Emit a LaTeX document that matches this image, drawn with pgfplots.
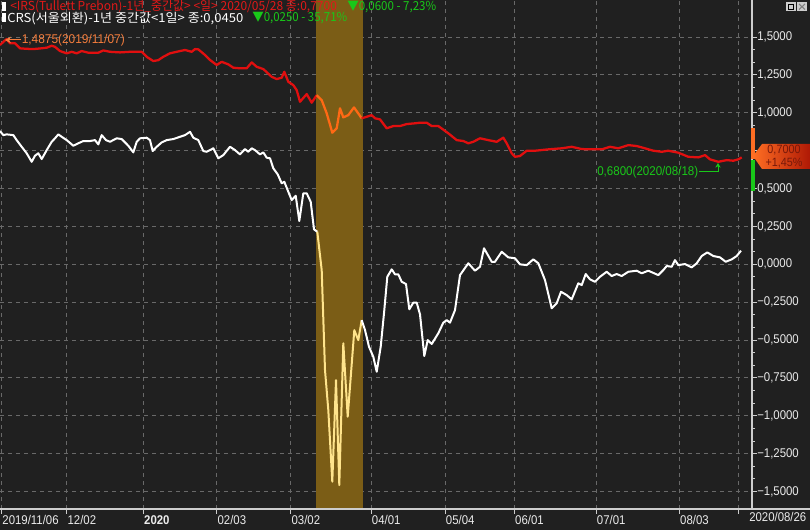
\documentclass[border=0pt]{standalone}
\usepackage{pgfplots}
\pgfplotsset{compat=1.18}
\usepackage{graphicx}
\usepackage{fontspec}
\usetikzlibrary{arrows.meta}
\setmainfont{Liberation Sans}
\newfontfamily\cf[FakeStretch=0.9]{Liberation Sans}
\newfontfamily\kr{Noto Sans CJK KR}
\definecolor{bg}{RGB}{32,32,32}
\definecolor{gridc}{RGB}{105,105,105}
\definecolor{band}{RGB}{123,93,22}
\definecolor{irs}{RGB}{225,15,15}
\definecolor{irsband}{RGB}{255,105,20}
\definecolor{crs}{RGB}{255,255,255}
\definecolor{crsband}{RGB}{255,228,140}
\definecolor{axisc}{RGB}{205,205,205}
\definecolor{lbl}{RGB}{235,235,235}
\definecolor{grn}{RGB}{25,200,25}
\definecolor{legred}{RGB}{225,25,25}
\definecolor{annor}{RGB}{245,125,60}
\definecolor{tagL}{RGB}{255,110,35}
\definecolor{tagR}{RGB}{175,25,5}
\definecolor{tagtxt}{RGB}{120,25,10}
\begin{document}
\begin{tikzpicture}[x=0.75pt,y=0.75pt]
\useasboundingbox (0,0) rectangle (810,-530);
\fill[bg] (0,0) rectangle (810,-530);
\begin{axis}[
  at={(0,0)}, anchor=north west, scale only axis,
  width=564pt, height=381.75pt,
  xmin=0, xmax=752, ymin=-1.615, ymax=1.745,
  axis line style={draw=none},
  xtick pos=left, ytick pos=right, yticklabel pos=right,
  tick align=outside,
  major tick length=3.75pt, minor tick length=2.25pt,
  every tick/.style={axisc, line width=0.75pt},
  xtick={1.5,66.7,143.3,216.7,290.7,371,445,514.3,596,679.3},
  xticklabels={2019/11/06,12/02,\textbf{2020},02/03,03/02,04/01,05/04,06/01,07/01,08/03},
  extra x ticks={738.3}, extra x tick labels={},
  ytick={-1.5,-1.25,-1,-0.75,-0.5,-0.25,0,0.25,0.5,0.75,1,1.25,1.5},
  yticklabels={{−1,5000},{−1,2500},{−1,0000},{−0,7500},{−0,5000},{−0,2500},{0,0000},{0,2500},{0,5000},{},{1,0000},{1,2500},{1,5000}},
  minor y tick num=2,
  xmajorgrids, ymajorgrids,
  major grid style={gridc, line width=0.75pt, dash pattern=on 3pt off 3pt},
  xticklabel style={anchor=north west, inner sep=0pt, xshift=0.5pt, yshift=-1pt, font=\cf\fontsize{9.5}{10}\selectfont, text=lbl},
  yticklabel style={anchor=west, inner sep=0pt, xshift=0pt, font=\cf\fontsize{9.5}{10}\selectfont, text=lbl},
  clip=true,
]
% highlighted period
\addplot[draw=none, fill=band] coordinates {(316,-1.7) (363,-1.7) (363,1.8) (316,1.8)} -- cycle;
% IRS (red)
\addplot[irs, line width=1.7pt, line join=round] coordinates {
(0,1.447)(3.5,1.470)(6.7,1.487)(10,1.459)(15,1.459)(20,1.426)(26,1.423)(33.3,1.421)(40,1.425)(46.7,1.430)(51.7,1.443)(55,1.436)(60,1.408)(66.7,1.393)(71.7,1.403)(76.7,1.393)(81.7,1.408)(88.3,1.397)(98.3,1.397)(103.3,1.412)(110,1.403)(120,1.399)(130,1.403)(141.7,1.403)(146.7,1.370)(153.3,1.342)(158.3,1.348)(163.3,1.370)(170,1.393)(180,1.408)(185,1.415)(191.7,1.403)(195,1.421)(198.3,1.419)(205,1.382)(210,1.349)(216.7,1.316)(221.7,1.337)(228.3,1.320)(233.3,1.298)(240,1.294)(246.7,1.294)(251.7,1.333)(256.7,1.304)(263.3,1.289)(271.7,1.238)(276.7,1.223)(281.7,1.232)(284.3,1.271)(288.3,1.205)(293.3,1.183)(296.7,1.150)(300,1.073)(306.7,1.124)(311.7,1.067)(316.7,1.117)
};
\addplot[irsband, line width=1.7pt, line join=round] coordinates {
(316.7,1.117)(321.7,1.084)(326.7,0.997)(332.3,0.869)(336.7,0.898)(340,1.030)(343.3,0.970)(348.3,0.985)(354,1.036)(361.7,0.964)
};
\addplot[irs, line width=1.7pt, line join=round] coordinates {
(361.7,0.964)(366.7,0.974)(371.7,0.985)(375,0.964)(380,0.957)(386.7,0.898)(393.3,0.913)(400,0.913)(406.7,0.926)(415,0.931)(420,0.935)(426.7,0.935)(431.7,0.913)(438.3,0.913)(448.3,0.865)(456.7,0.820)(463.3,0.814)(468.3,0.799)(473.3,0.809)(480,0.832)(488.3,0.820)(496.7,0.809)(503.3,0.836)(506.7,0.799)(511.7,0.733)(515,0.710)(520,0.715)(526.7,0.750)(535,0.750)(548.3,0.759)(561.7,0.766)(571.7,0.776)(581.7,0.761)(591.7,0.759)(601.7,0.759)(610,0.776)(618.3,0.766)(628.3,0.787)(636.7,0.781)(645,0.766)(653.3,0.750)(661.7,0.743)(668.3,0.750)(678.3,0.737)(688.3,0.710)(698.3,0.706)(705,0.721)(710,0.693)(718.3,0.677)(726.7,0.688)(733.3,0.684)(738.3,0.693)(741.7,0.706)
};
% CRS (white)
\addplot[crs, line width=1.5pt, line join=round] coordinates {
(0,0.880)(3.3,0.853)(6.7,0.858)(13.3,0.853)(16.7,0.820)(21.7,0.776)(26.7,0.733)(31.7,0.677)(35,0.717)(38.3,0.733)(41.7,0.695)(46.7,0.754)(51.7,0.809)(55,0.832)(58.3,0.858)(61.7,0.842)(66.7,0.820)(73.3,0.783)(78.3,0.799)(83.3,0.814)(90,0.814)(95,0.820)(98.3,0.792)(101.7,0.853)(106,0.820)(110,0.809)(116.7,0.832)(121.7,0.827)(128.3,0.783)(133.3,0.739)(136.7,0.809)(140,0.832)(146.7,0.836)(150,0.820)(152.7,0.748)(156.7,0.776)(161.7,0.805)(166.7,0.820)(173.3,0.827)(180,0.842)(185,0.853)(190,0.875)(193.3,0.836)(198.3,0.820)(203.3,0.748)(206.7,0.743)(213.3,0.766)(218.3,0.700)(223.3,0.721)(230,0.776)(235,0.754)(240,0.726)(245,0.761)(248.3,0.743)(251.7,0.766)(255,0.754)(260,0.726)(263.3,0.739)(266.7,0.704)(270,0.700)(273.3,0.634)(277.7,0.594)(281.7,0.535)(284.3,0.545)(288.3,0.479)(291.7,0.424)(295.7,0.453)(299.3,0.286)(303.3,0.469)(306.7,0.469)(310.7,0.413)(314,0.231)(317.3,0.215)
};
\addplot[crsband, line width=1.5pt, line join=round] coordinates {
(317.3,0.215)(321.7,-0.038)(325,-0.698)(328.3,-0.962)(332.3,-1.435)(336,-0.764)(339.3,-1.457)(343.3,-0.521)(347.7,-1.006)(354.3,-0.434)(358.3,-0.500)(361.7,-0.368)
};
\addplot[crs, line width=1.5pt, line join=round] coordinates {
(361.7,-0.368)(365,-0.434)(369,-0.544)(373.3,-0.610)(376.7,-0.709)(380.7,-0.544)(384,-0.323)(387.3,-0.082)(391.7,-0.033)(395,-0.066)(398.3,-0.066)(401.7,-0.115)(406,-0.130)(409.3,-0.297)(413.3,-0.253)(416.7,-0.253)(420,-0.330)(424.3,-0.605)(427.7,-0.500)(431.7,-0.526)(438.3,-0.455)(443.3,-0.385)(446.7,-0.368)(450,-0.385)(455,-0.302)(460,-0.071)(468.3,0.007)(475,-0.042)(480,-0.016)(484,0.106)(491.7,0.017)(495,0.017)(501.7,0.083)(508.3,0.046)(515,0.040)(520,0.000)(526.7,-0.005)(533.3,0.033)(538.3,0.007)(545,-0.104)(551.7,-0.290)(556.7,-0.257)(561,-0.181)(566.7,-0.203)(571.7,-0.231)(578.3,-0.125)(581.7,-0.137)(585.7,-0.064)(590,-0.099)(595,-0.115)(600,-0.082)(606.7,-0.049)(611.7,-0.077)(616.7,-0.064)(621.7,-0.077)(628.3,-0.049)(636.7,-0.042)(641.7,-0.059)(648.3,-0.042)(658.3,-0.071)(663.3,-0.038)(666.7,-0.011)(671.7,-0.016)(675,0.028)(678.3,-0.005)(685,0.002)(691.7,-0.020)(696.7,0.007)(701.7,0.055)(707.3,0.079)(713.3,0.055)(720,0.046)(725.7,0.017)(731.7,0.033)(736.7,0.055)(741,0.090)
};
\end{axis}
% axis lines
\draw[axisc, line width=1.2pt] (752,0) -- (752,-509);
\draw[axisc, line width=1.5pt] (0,-509) -- (810,-509);
% last date label
\node[anchor=north west, inner sep=0pt, text=lbl, font=\cf\fontsize{9.5}{10}\selectfont] at (749,-512.5) {2020/08/26};
% legend rows
\fill[white] (1.5,-2) rectangle (5.5,-11);
\fill[white] (1.5,-13.5) rectangle (5.5,-22.5);
\node[anchor=west, inner sep=0pt, text=legred, font=\kr\fontsize{9.3}{10}\selectfont] at (10,-6.7)
  {\resizebox{245pt}{\height}{<IRS(Tullett Prebon)-1년\_중간값> <일> 2020/05/28 종:0,7700}};
\node[anchor=west, inner sep=0pt, text=grn, font=\kr\fontsize{9.3}{10}\selectfont] at (347,-6.7)
  {\resizebox{66.75pt}{\height}{▼0,0600 - 7,23\%}};
\node[anchor=west, inner sep=0pt, text=white, font=\kr\fontsize{9.3}{10}\selectfont] at (7,-18.3)
  {\resizebox{177pt}{\height}{CRS(서울외환)-1년 중간값<1일> 종:0,0450}};
\node[anchor=west, inner sep=0pt, text=grn, font=\kr\fontsize{9.3}{10}\selectfont] at (252,-18.3)
  {\resizebox{71.25pt}{\height}{▼0,0250 - 35,71\%}};
% max annotation
\draw[annor, line width=0.75pt, -{Stealth[length=4.5pt,width=5pt]}] (21,-40) -- (5,-40);
\node[anchor=west, inner sep=0pt, text=annor, font=\cf\fontsize{9.5}{10}\selectfont] at (21.5,-40) {\resizebox{77.25pt}{\height}{1,4875(2019/11/07)}};
% min annotation
\node[anchor=west, inner sep=0pt, text=grn, font=\cf\fontsize{9.5}{10}\selectfont] at (597,-172) {\resizebox{75.75pt}{\height}{0,6800(2020/08/18)}};
\draw[grn, line width=0.75pt, -{Stealth[length=3.5pt,width=4pt]}] (699,-172) -- (718,-172) -- (718,-163);
% range bars on axis
\fill[tagL] (751,-127.7) rectangle (755,-159);
\fill[grn] (751,-160) rectangle (755,-190.7);
% price tag
\shade[left color=tagL, right color=tagR] (753,-156) -- (762,-144) -- (810,-144) -- (810,-169) -- (762,-169) -- cycle;
\node[inner sep=0pt, align=center, text=tagtxt, font=\cf\fontsize{9}{9.4}\selectfont] at (784,-156.8) {0,7000\\+1,45\%};
% window buttons
\fill[axisc] (786,-2) rectangle (795.5,-11.5);
\draw[black, line width=0.9pt] (788.2,-4.2) rectangle (793.3,-9.3);
\fill[axisc] (797,-2) rectangle (807,-11.5);
\draw[gray, line width=0.8pt] (799,-4) -- (805,-9.5) (805,-4) -- (799,-9.5);
\end{tikzpicture}
\end{document}
